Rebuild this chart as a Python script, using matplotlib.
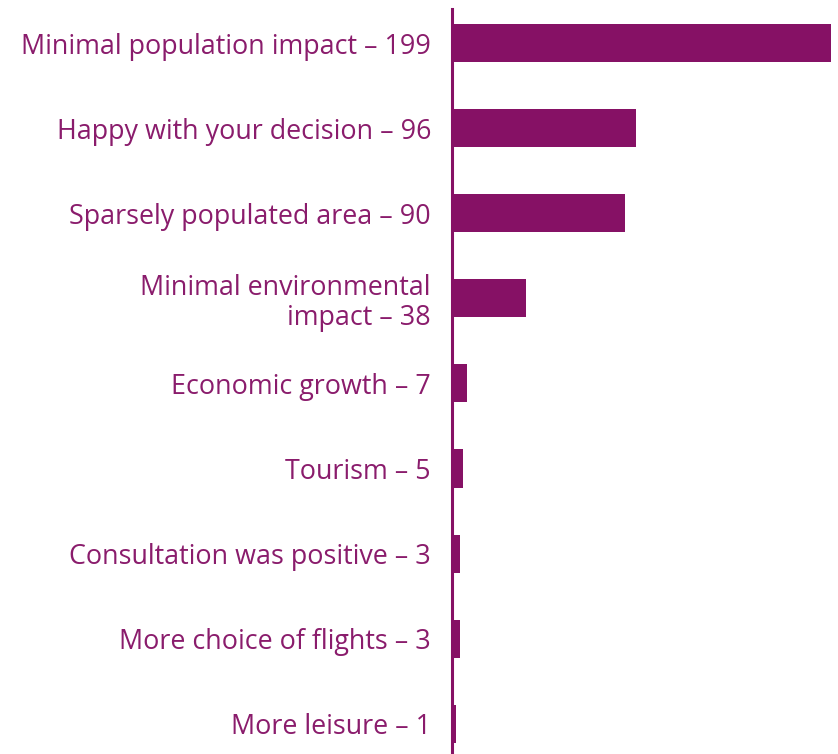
import matplotlib
matplotlib.use("Agg")
import matplotlib.pyplot as plt

categories = [
    "Minimal population impact – 199",
    "Happy with your decision – 96",
    "Sparsely populated area – 90",
    "Minimal environmental\nimpact – 38",
    "Economic growth – 7",
    "Tourism – 5",
    "Consultation was positive – 3",
    "More choice of flights – 3",
    "More leisure – 1",
]
values = [199, 96, 90, 38, 7, 5, 3, 3, 1]

bar_color = "#861165"
text_color = "#8a1c6c"

fig = plt.figure(figsize=(8.38, 7.54), dpi=100)
W, H = 838, 754
ax = fig.add_axes([454 / W, 0, (831 - 454) / W, (754 - 9) / H])

pos = list(range(len(values)))
ax.barh(pos, values, height=0.447, color=bar_color, left=0, zorder=3)
ax.set_xlim(0, 199)
ax.set_ylim(8.355, -0.40)

for s in ["top", "right", "bottom"]:
    ax.spines[s].set_visible(False)
ax.spines["left"].set_color(bar_color)
ax.spines["left"].set_linewidth(2.2)
ax.spines["left"].set_position(("outward", 1.1))
ax.set_xticks([])
ax.set_yticks(pos)
ax.set_yticklabels(categories, fontfamily="Open Sans", fontsize=19.4,
                   color=text_color, linespacing=1.08)
ax.tick_params(axis="y", length=0, pad=15.5)

fig.savefig("out.png", dpi=100)
